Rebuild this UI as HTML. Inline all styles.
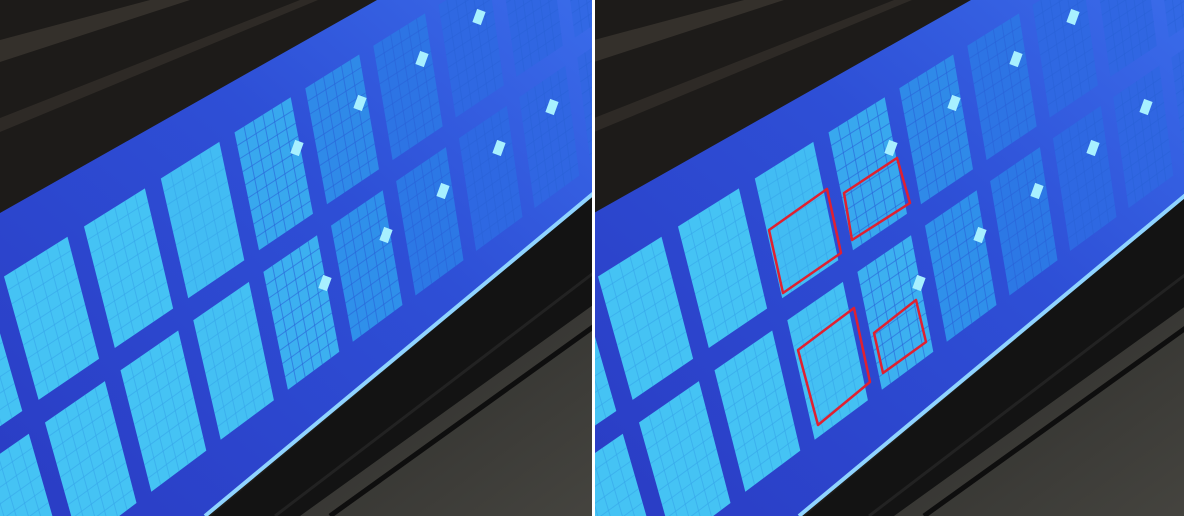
<!DOCTYPE html>
<html><head><meta charset="utf-8"><style>
html,body{margin:0;padding:0;background:#fff;overflow:hidden;}
svg{display:block;}
</style></head><body>
<svg width="1184" height="516" viewBox="0 0 1184 516" xmlns="http://www.w3.org/2000/svg">
<defs>
<linearGradient id="bandGrad" x1="0" y1="1" x2="1" y2="0">
<stop offset="0" stop-color="#2a3cc4"/><stop offset="0.6" stop-color="#2e4fd6"/><stop offset="1" stop-color="#3a6cea"/>
</linearGradient>
<linearGradient id="grayGrad" x1="0" y1="0" x2="1" y2="1">
<stop offset="0" stop-color="#2c2c2a"/><stop offset="1" stop-color="#45443f"/>
</linearGradient>
<clipPath id="clipL"><rect x="0" y="0" width="592" height="516"/></clipPath>
<clipPath id="clipR"><rect x="595" y="0" width="589" height="516"/></clipPath>
</defs>
<rect width="1184" height="516" fill="#fff"/>
<g id="panelL" clip-path="url(#clipL)"></g>
<g id="panelR" clip-path="url(#clipR)"></g>
<rect x="592" y="0" width="3" height="516" fill="#ffffff"/>
<g fill="none" stroke="#e02030" stroke-width="2.5" stroke-linejoin="round">
<polygon points="769,230 827,189 841,253 783,293"/>
<polygon points="844,193 897,158 910,203 852,240"/>
<polygon points="798,350 854,308 870,382 818,425"/>
<polygon points="874,333 916,300 926,342 883,373"/>
</g>
</svg>
<script>
const NS='http://www.w3.org/2000/svg';
const row0Colors=['#45c3f4','#45c3f4','#42bcf3','#38a8ee','#2f8ae8','#2d74e4','#2f68e2','#3066e2','#3268e4','#3468e4','#3468e4','#3468e4'];
const row1Colors=['#45c3f4','#45c3f4','#44c0f3','#3cb0f0','#2f90ea','#2c78e5','#2e68e2','#3066e2','#3266e2','#3466e2','#3466e2','#3466e2'];
const dots=[[479,17],[422,59],[360,103],[297,148],[552,107],[499,148],[443,191],[386,235],[325,283]];
function mk(tag,attrs,parent){const e=document.createElementNS(NS,tag);for(const k in attrs)e.setAttribute(k,attrs[k]);parent.appendChild(e);return e;}
function proj(u,v){
  const k=0.96, s=(1-Math.pow(k,u))/(1-k);
  return [4+80*s+41*v*Math.pow(0.89,u), 276.5-50*s+146*v*Math.pow(0.985,u)];
}
function pts(arr,dx){return arr.map(p=>(p[0]+dx).toFixed(1)+','+p[1].toFixed(1)).join(' ');}
function build(gid,dx){
  const g=document.getElementById(gid);
  mk('rect',{x:dx,y:0,width:600,height:516,fill:'#1d1b19'},g);
  mk('polygon',{points:pts([[0,40],[150,0],[190,0],[0,62]],dx),fill:'#34302b'},g);
  mk('polygon',{points:pts([[0,118],[300,0],[318,0],[0,132]],dx),fill:'#2e2a26'},g);
  const band=mk('polygon',{points:pts([[0,213],[377,0],[600,0],[600,190],[205,516],[0,516]],dx),fill:'url(#bandGrad)'},g);
  
  
  mk('polygon',{points:pts([[211,516],[600,190],[600,516]],dx),fill:'#131313'},g);
  mk('polygon',{points:pts([[300,516],[600,300],[600,516]],dx),fill:'url(#grayGrad)'},g);
  mk('line',{x1:dx+330,y1:516,x2:dx+600,y2:322,stroke:'#0e0e0e','stroke-width':5},g);
  mk('line',{x1:dx+275,y1:516,x2:dx+600,y2:268,stroke:'#222',"stroke-width":3},g);
  const edge=mk('line',{x1:dx+205,y1:516,x2:dx+600,y2:188,stroke:'#8fd4ff','stroke-width':4},g);
  
  
  for(let c=-2;c<12;c++){
    for(let r=0;r<2;r++){
      const cc=Math.max(0,c);
      const col=(r===0?row0Colors:row1Colors)[cc];
      const a=proj(c,r),b=proj(c+0.79,r),d=proj(c+0.79,r+0.845),e=proj(c,r+0.845);
      const cell=mk('polygon',{points:pts([a,b,d,e],dx),fill:col},g);
      
      
      const lc=cc<3?'#37a6ea':'#2a62d8';
      for(let i=1;i<6;i++){const f=c+0.79*i/6;const p=proj(f,r),q=proj(f,r+0.845);
        mk('line',{x1:p[0]+dx,y1:p[1],x2:q[0]+dx,y2:q[1],stroke:lc,'stroke-width':1,opacity:0.6},g);}
      for(let j=1;j<9;j++){const f=r+0.845*j/9;const p=proj(c,f),q=proj(c+0.79,f);
        mk('line',{x1:p[0]+dx,y1:p[1],x2:q[0]+dx,y2:q[1],stroke:lc,'stroke-width':1,opacity:0.6},g);}
    }
  }
  dots.forEach(p=>{
    const d=mk('rect',{x:p[0]+dx-4.5,y:p[1]-7,width:9,height:14,fill:'#a8f0ff',transform:`skewY(-30) translate(0,0)`},g);
    d.setAttribute('transform',`rotate(20 ${p[0]+dx} ${p[1]})`);
    
    
  });
}
build('panelL',0);
build('panelR',594);
</script>
</body></html>
